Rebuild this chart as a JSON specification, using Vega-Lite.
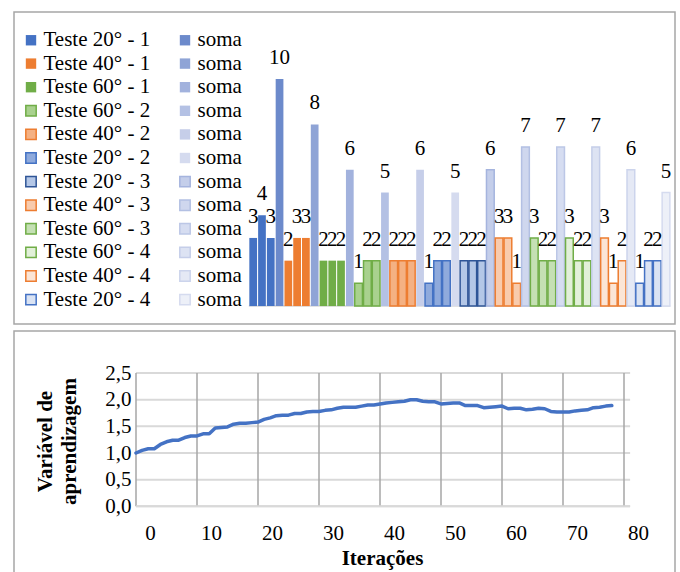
{
  "$schema": "https://vega.github.io/schema/vega-lite/v6.json",
  "background": "white",
  "padding": {"left": 13, "top": 11, "right": 0, "bottom": 0},
  "spacing": 5,
  "config": {
    "view": {"stroke": "#A6A6A6", "strokeWidth": 1.5},
    "font": "Liberation Serif, Times New Roman, serif"
  },
  "datasets": {
    "barras": [
      {"grupo": "Teste 20° - 1", "barra": "1", "serie": "Teste 20° - 1", "valor": 3},
      {"grupo": "Teste 20° - 1", "barra": "2", "serie": "Teste 20° - 1", "valor": 4},
      {"grupo": "Teste 20° - 1", "barra": "3", "serie": "Teste 20° - 1", "valor": 3},
      {"grupo": "Teste 20° - 1", "barra": "soma", "serie": "soma 1", "valor": 10},
      {"grupo": "Teste 40° - 1", "barra": "1", "serie": "Teste 40° - 1", "valor": 2},
      {"grupo": "Teste 40° - 1", "barra": "2", "serie": "Teste 40° - 1", "valor": 3},
      {"grupo": "Teste 40° - 1", "barra": "3", "serie": "Teste 40° - 1", "valor": 3},
      {"grupo": "Teste 40° - 1", "barra": "soma", "serie": "soma 2", "valor": 8},
      {"grupo": "Teste 60° - 1", "barra": "1", "serie": "Teste 60° - 1", "valor": 2},
      {"grupo": "Teste 60° - 1", "barra": "2", "serie": "Teste 60° - 1", "valor": 2},
      {"grupo": "Teste 60° - 1", "barra": "3", "serie": "Teste 60° - 1", "valor": 2},
      {"grupo": "Teste 60° - 1", "barra": "soma", "serie": "soma 3", "valor": 6},
      {"grupo": "Teste 60° - 2", "barra": "1", "serie": "Teste 60° - 2", "valor": 1},
      {"grupo": "Teste 60° - 2", "barra": "2", "serie": "Teste 60° - 2", "valor": 2},
      {"grupo": "Teste 60° - 2", "barra": "3", "serie": "Teste 60° - 2", "valor": 2},
      {"grupo": "Teste 60° - 2", "barra": "soma", "serie": "soma 4", "valor": 5},
      {"grupo": "Teste 40° - 2", "barra": "1", "serie": "Teste 40° - 2", "valor": 2},
      {"grupo": "Teste 40° - 2", "barra": "2", "serie": "Teste 40° - 2", "valor": 2},
      {"grupo": "Teste 40° - 2", "barra": "3", "serie": "Teste 40° - 2", "valor": 2},
      {"grupo": "Teste 40° - 2", "barra": "soma", "serie": "soma 5", "valor": 6},
      {"grupo": "Teste 20° - 2", "barra": "1", "serie": "Teste 20° - 2", "valor": 1},
      {"grupo": "Teste 20° - 2", "barra": "2", "serie": "Teste 20° - 2", "valor": 2},
      {"grupo": "Teste 20° - 2", "barra": "3", "serie": "Teste 20° - 2", "valor": 2},
      {"grupo": "Teste 20° - 2", "barra": "soma", "serie": "soma 6", "valor": 5},
      {"grupo": "Teste 20° - 3", "barra": "1", "serie": "Teste 20° - 3", "valor": 2},
      {"grupo": "Teste 20° - 3", "barra": "2", "serie": "Teste 20° - 3", "valor": 2},
      {"grupo": "Teste 20° - 3", "barra": "3", "serie": "Teste 20° - 3", "valor": 2},
      {"grupo": "Teste 20° - 3", "barra": "soma", "serie": "soma 7", "valor": 6},
      {"grupo": "Teste 40° - 3", "barra": "1", "serie": "Teste 40° - 3", "valor": 3},
      {"grupo": "Teste 40° - 3", "barra": "2", "serie": "Teste 40° - 3", "valor": 3},
      {"grupo": "Teste 40° - 3", "barra": "3", "serie": "Teste 40° - 3", "valor": 1},
      {"grupo": "Teste 40° - 3", "barra": "soma", "serie": "soma 8", "valor": 7},
      {"grupo": "Teste 60° - 3", "barra": "1", "serie": "Teste 60° - 3", "valor": 3},
      {"grupo": "Teste 60° - 3", "barra": "2", "serie": "Teste 60° - 3", "valor": 2},
      {"grupo": "Teste 60° - 3", "barra": "3", "serie": "Teste 60° - 3", "valor": 2},
      {"grupo": "Teste 60° - 3", "barra": "soma", "serie": "soma 9", "valor": 7},
      {"grupo": "Teste 60° - 4", "barra": "1", "serie": "Teste 60° - 4", "valor": 3},
      {"grupo": "Teste 60° - 4", "barra": "2", "serie": "Teste 60° - 4", "valor": 2},
      {"grupo": "Teste 60° - 4", "barra": "3", "serie": "Teste 60° - 4", "valor": 2},
      {"grupo": "Teste 60° - 4", "barra": "soma", "serie": "soma 10", "valor": 7},
      {"grupo": "Teste 40° - 4", "barra": "1", "serie": "Teste 40° - 4", "valor": 3},
      {"grupo": "Teste 40° - 4", "barra": "2", "serie": "Teste 40° - 4", "valor": 1},
      {"grupo": "Teste 40° - 4", "barra": "3", "serie": "Teste 40° - 4", "valor": 2},
      {"grupo": "Teste 40° - 4", "barra": "soma", "serie": "soma 11", "valor": 6},
      {"grupo": "Teste 20° - 4", "barra": "1", "serie": "Teste 20° - 4", "valor": 1},
      {"grupo": "Teste 20° - 4", "barra": "2", "serie": "Teste 20° - 4", "valor": 2},
      {"grupo": "Teste 20° - 4", "barra": "3", "serie": "Teste 20° - 4", "valor": 2},
      {"grupo": "Teste 20° - 4", "barra": "soma", "serie": "soma 12", "valor": 5}
    ],
    "linha": [
      {"iter": 0, "valor": 1.00}, {"iter": 1, "valor": 1.05}, {"iter": 2, "valor": 1.08}, {"iter": 3, "valor": 1.08},
      {"iter": 4, "valor": 1.16}, {"iter": 5, "valor": 1.21}, {"iter": 6, "valor": 1.24}, {"iter": 7, "valor": 1.24},
      {"iter": 8, "valor": 1.29}, {"iter": 9, "valor": 1.32}, {"iter": 10, "valor": 1.32}, {"iter": 11, "valor": 1.36},
      {"iter": 12, "valor": 1.36}, {"iter": 13, "valor": 1.47}, {"iter": 14, "valor": 1.48}, {"iter": 15, "valor": 1.49},
      {"iter": 16, "valor": 1.54}, {"iter": 17, "valor": 1.56}, {"iter": 18, "valor": 1.56}, {"iter": 19, "valor": 1.57},
      {"iter": 20, "valor": 1.58}, {"iter": 21, "valor": 1.63}, {"iter": 22, "valor": 1.66}, {"iter": 23, "valor": 1.70},
      {"iter": 24, "valor": 1.71}, {"iter": 25, "valor": 1.71}, {"iter": 26, "valor": 1.74}, {"iter": 27, "valor": 1.74},
      {"iter": 28, "valor": 1.77}, {"iter": 29, "valor": 1.78}, {"iter": 30, "valor": 1.78}, {"iter": 31, "valor": 1.80},
      {"iter": 32, "valor": 1.81}, {"iter": 33, "valor": 1.84}, {"iter": 34, "valor": 1.86}, {"iter": 35, "valor": 1.86},
      {"iter": 36, "valor": 1.86}, {"iter": 37, "valor": 1.88}, {"iter": 38, "valor": 1.90}, {"iter": 39, "valor": 1.90},
      {"iter": 40, "valor": 1.92}, {"iter": 41, "valor": 1.94}, {"iter": 42, "valor": 1.95}, {"iter": 43, "valor": 1.96},
      {"iter": 44, "valor": 1.97}, {"iter": 45, "valor": 2.00}, {"iter": 46, "valor": 2.00}, {"iter": 47, "valor": 1.97},
      {"iter": 48, "valor": 1.96}, {"iter": 49, "valor": 1.96}, {"iter": 50, "valor": 1.92}, {"iter": 51, "valor": 1.93},
      {"iter": 52, "valor": 1.94}, {"iter": 53, "valor": 1.94}, {"iter": 54, "valor": 1.89}, {"iter": 55, "valor": 1.89},
      {"iter": 56, "valor": 1.89}, {"iter": 57, "valor": 1.85}, {"iter": 58, "valor": 1.86}, {"iter": 59, "valor": 1.87},
      {"iter": 60, "valor": 1.88}, {"iter": 61, "valor": 1.83}, {"iter": 62, "valor": 1.84}, {"iter": 63, "valor": 1.84},
      {"iter": 64, "valor": 1.81}, {"iter": 65, "valor": 1.82}, {"iter": 66, "valor": 1.84}, {"iter": 67, "valor": 1.83},
      {"iter": 68, "valor": 1.78}, {"iter": 69, "valor": 1.77}, {"iter": 70, "valor": 1.77}, {"iter": 71, "valor": 1.77},
      {"iter": 72, "valor": 1.79}, {"iter": 73, "valor": 1.80}, {"iter": 74, "valor": 1.81}, {"iter": 75, "valor": 1.85},
      {"iter": 76, "valor": 1.86}, {"iter": 77, "valor": 1.88}, {"iter": 78, "valor": 1.89}
    ],
    "gradeX": [{"xv": 0}, {"xv": 10}, {"xv": 20}, {"xv": 30}, {"xv": 40}, {"xv": 50}, {"xv": 60}, {"xv": 70}, {"xv": 80}],
    "gradeY": [{"yv": 0}, {"yv": 0.5}, {"yv": 1}, {"yv": 1.5}, {"yv": 2}, {"yv": 2.5}]
  },
  "vconcat": [
    {
      "width": 661,
      "height": 312,
      "data": {"name": "barras"},
      "layer": [
        {
          "transform": [{"filter": "datum.barra === 'soma'"}],
          "mark": {"type": "rect", "fill": "transparent", "stroke": "#D9D9D9", "strokeWidth": 1.5},
          "encoding": {
            "x": {"field": "grupo", "type": "nominal", "sort": null, "axis": null,
                  "scale": {"type": "band", "domain": ["Teste 20° - 1", "Teste 40° - 1", "Teste 60° - 1", "Teste 60° - 2", "Teste 40° - 2", "Teste 20° - 2", "Teste 20° - 3", "Teste 40° - 3", "Teste 60° - 3", "Teste 60° - 4", "Teste 40° - 4", "Teste 20° - 4"], "paddingInner": 0, "paddingOuter": 0, "range": [234.8, 656.4]}},
            "y": {"datum": 0, "type": "quantitative", "axis": null, "scale": {"domain": [-0.79, 12.95], "nice": false}},
            "y2": {"datum": 0}
          }
        },
        {
          "mark": {"type": "bar", "strokeWidth": 1.5, "fillOpacity": 1},
          "encoding": {
            "x": {"field": "grupo", "type": "nominal", "sort": null, "axis": null},
            "xOffset": {"field": "barra", "type": "nominal", "scale": {"domain": ["1", "2", "3", "soma"], "paddingInner": 0.12, "paddingOuter": 0.06}},
            "y": {"field": "valor", "type": "quantitative", "axis": null},
            "color": {
              "field": "serie", "type": "nominal",
              "scale": {
                "domain": ["Teste 20° - 1", "Teste 40° - 1", "Teste 60° - 1", "Teste 60° - 2", "Teste 40° - 2", "Teste 20° - 2", "Teste 20° - 3", "Teste 40° - 3", "Teste 60° - 3", "Teste 60° - 4", "Teste 40° - 4", "Teste 20° - 4", "soma 1", "soma 2", "soma 3", "soma 4", "soma 5", "soma 6", "soma 7", "soma 8", "soma 9", "soma 10", "soma 11", "soma 12"],
                "range": ["#4472C4", "#ED7D31", "#70AD47", "#A9D18E", "#F4B183", "#8FAADC", "#B4C7E7", "#F8CBAD", "#C5E0B4", "#E2F0D9", "#FBE5D6", "#DAE3F3", "#6C8ACB", "#8FA4D6", "#A2B2DD", "#B4C1E4", "#C6CEE9", "#D5DBEF", "#C4CEEA", "#CFD7EE", "#D6DDF1", "#DDE3F3", "#E5E9F5", "#EDF0F8"]
              },
              "legend": {
                "orient": "none", "legendX": 6.5, "legendY": 17.5, "columns": 2, "title": null,
                "symbolType": "square", "symbolSize": 108, "symbolStrokeWidth": 1.5,
                "labelFont": "Liberation Serif, Times New Roman, serif", "labelFontSize": 21, "labelColor": "#000000",
                "labelOffset": 2, "labelLimit": 0, "rowPadding": 1.6, "columnPadding": 24, "padding": 0,
                "labelExpr": "indexof(datum.label, 'soma') === 0 ? 'soma' : datum.label"
              }
            },
            "stroke": {
              "field": "serie", "type": "nominal",
              "scale": {
                "domain": ["Teste 20° - 1", "Teste 40° - 1", "Teste 60° - 1", "Teste 60° - 2", "Teste 40° - 2", "Teste 20° - 2", "Teste 20° - 3", "Teste 40° - 3", "Teste 60° - 3", "Teste 60° - 4", "Teste 40° - 4", "Teste 20° - 4", "soma 1", "soma 2", "soma 3", "soma 4", "soma 5", "soma 6", "soma 7", "soma 8", "soma 9", "soma 10", "soma 11", "soma 12"],
                "range": ["transparent", "transparent", "transparent", "#70AD47", "#ED7D31", "#4472C4", "#2F5597", "#ED7D31", "#70AD47", "#70AD47", "#ED7D31", "#4472C4", "transparent", "transparent", "transparent", "transparent", "transparent", "transparent", "#A5B4DE", "#B3C0E3", "#BCC7E6", "#C5CEE9", "#CCD4EC", "#D5DBEF"]
              }
            }
          }
        },
        {
          "mark": {"type": "text", "baseline": "alphabetic", "dy": -15, "fontSize": 21, "font": "Liberation Serif, Times New Roman, serif", "color": "#000000"},
          "encoding": {
            "x": {"field": "grupo", "type": "nominal", "sort": null, "axis": null},
            "xOffset": {"field": "barra", "type": "nominal"},
            "y": {"field": "valor", "type": "quantitative", "axis": null},
            "text": {"field": "valor", "type": "quantitative"}
          }
        }
      ]
    },
    {
      "width": 661,
      "height": 260,
      "layer": [
        {
          "data": {"name": "gradeY"},
          "mark": {"type": "rule", "color": "#D9D9D9", "strokeWidth": 2},
          "encoding": {
            "y": {"field": "yv", "type": "quantitative", "scale": {"domain": [-1.589, 3.289], "nice": false, "zero": false}},
            "x": {"datum": 0, "type": "quantitative", "scale": {"domain": [-20, 88.36], "nice": false, "zero": false}},
            "x2": {"datum": 81}
          }
        },
        {
          "data": {"name": "gradeX"},
          "mark": {"type": "rule", "color": "#A6A6A6", "strokeWidth": 1.5},
          "encoding": {
            "x": {"field": "xv", "type": "quantitative"},
            "y": {"datum": 0, "type": "quantitative"},
            "y2": {"datum": 2.5}
          }
        },
        {
          "data": {"name": "gradeY"},
          "transform": [{"filter": "datum.yv === 0"}],
          "mark": {"type": "rule", "color": "#D9D9D9", "strokeWidth": 2},
          "encoding": {
            "y": {"field": "yv", "type": "quantitative"},
            "x": {"datum": 0, "type": "quantitative"},
            "x2": {"datum": 81}
          }
        },
        {
          "data": {"name": "linha"},
          "mark": {"type": "line", "color": "#4472C4", "strokeWidth": 3.5, "strokeCap": "round", "strokeJoin": "round"},
          "encoding": {
            "x": {
              "field": "iter", "type": "quantitative",
              "axis": {
                "orient": "bottom", "offset": -84.7, "values": [0, 10, 20, 30, 40, 50, 60, 70, 80], "format": "d",
                "grid": false, "domain": false, "ticks": false,
                "labelFont": "Liberation Serif, Times New Roman, serif", "labelFontSize": 21, "labelColor": "#000000", "labelPadding": 16, "labelOffset": 14,
                "title": "Iterações", "titleFont": "Liberation Serif, Times New Roman, serif", "titleFontSize": 21, "titleFontWeight": "bold", "titleColor": "#000000",
                "titleX": 368, "titleY": 41, "titleBaseline": "top"
              }
            },
            "y": {
              "field": "valor", "type": "quantitative",
              "axis": {
                "orient": "left", "offset": -122, "values": [0, 0.5, 1, 1.5, 2, 2.5],
                "labelExpr": "replace(format(datum.value, '.1f'), '.', ',')",
                "grid": false, "domain": false, "ticks": false,
                "labelFont": "Liberation Serif, Times New Roman, serif", "labelFontSize": 21, "labelColor": "#000000", "labelPadding": 5,
                "title": ["Variável de", "aprendizagem"], "titleFont": "Liberation Serif, Times New Roman, serif", "titleFontSize": 21, "titleFontWeight": "bold", "titleColor": "#000000",
                "titleX": -81, "titleY": 110, "titleAngle": 270, "titleBaseline": "bottom", "titleLineHeight": 24
              }
            }
          }
        }
      ]
    }
  ]
}
